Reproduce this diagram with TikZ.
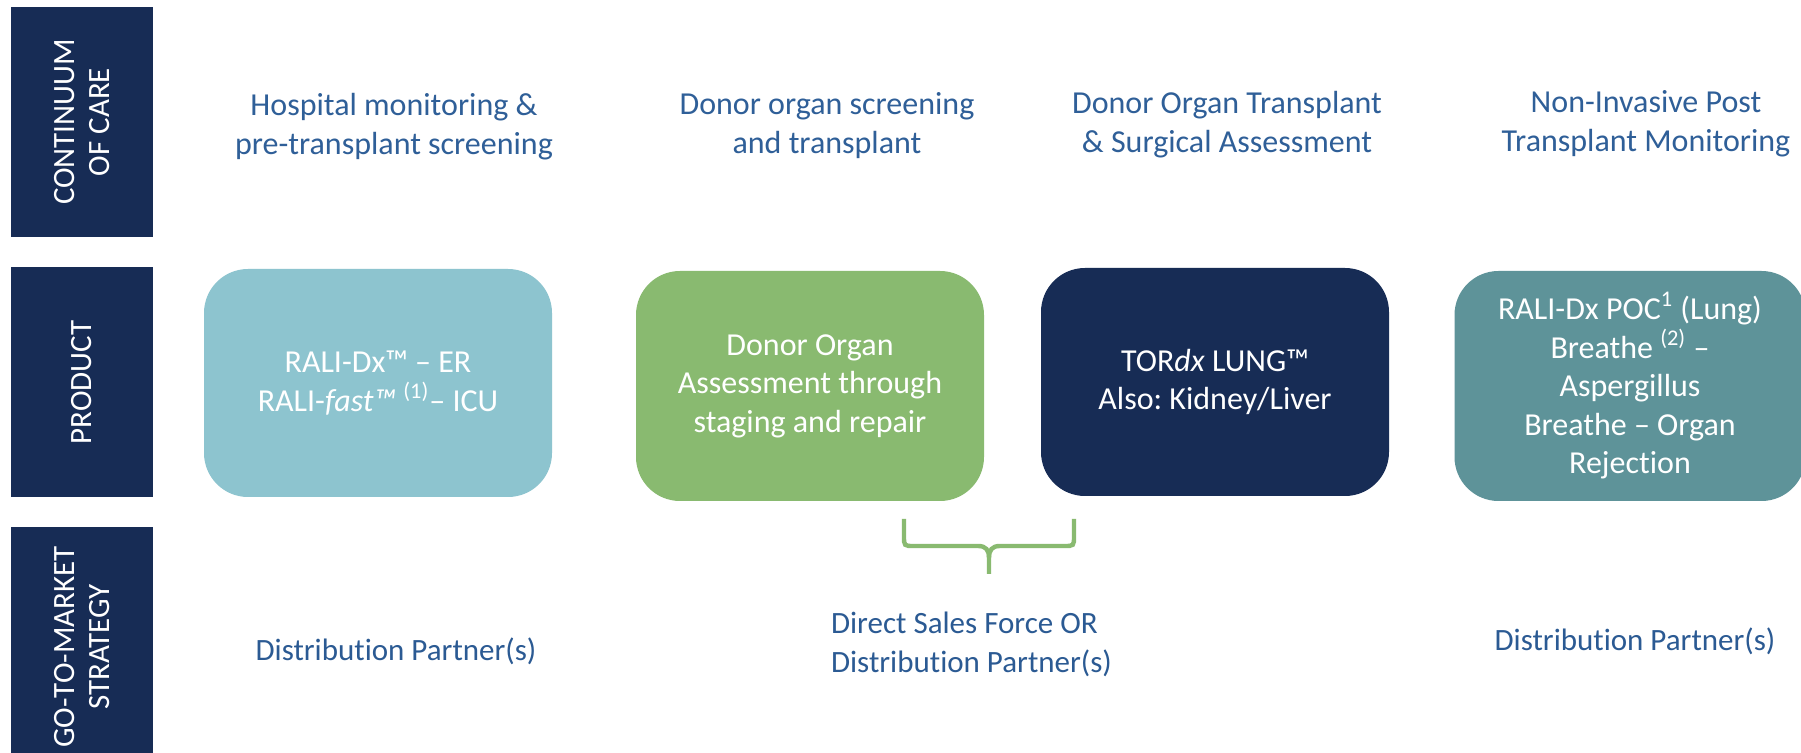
\documentclass[tikz,border=0pt]{standalone}
\usepackage{fontspec}
\setmainfont{Carlito}[Ligatures=NoCommon]
\frenchspacing
\definecolor{navy}{RGB}{23,44,85}
\definecolor{lblue}{RGB}{141,196,207}
\definecolor{lgreen}{RGB}{137,186,112}
\definecolor{teal2}{RGB}{94,147,153}
\definecolor{hblue}{RGB}{47,95,152}
\definecolor{dblue}{RGB}{43,90,147}
\tikzset{
  bar/.style={fill=navy, rotate=90, text=white, align=center, inner sep=0pt,
    minimum width=115pt, minimum height=71pt, font=\fontsize{15.5}{17.5}\selectfont},
  prod/.style={rounded corners=22pt, text=white, align=center, inner sep=0pt,
    minimum width=174pt, minimum height=114pt, font=\fontsize{16}{19.3}\selectfont},
  head/.style={text=hblue, align=center, font=\fontsize{16}{19.5}\selectfont},
  gtm/.style={text=dblue, font=\fontsize{15.5}{19.5}\selectfont},
  brace/.style={draw=lgreen, line width=2.2pt, line cap=butt}
}
\begin{document}
\begin{tikzpicture}[x=0.5pt,y=-0.5pt]
\useasboundingbox (0,0) rectangle (1801,753);
\fill[white] (0,0) rectangle (1801,753);
% left bars
\node[bar] (bcare) at (82,122) {CONTINUUM\\OF CARE};
\node[bar] (bprod) at (82,382.5) {PRODUCT};
\node[bar, minimum width=120pt] (bgtm) at (82,647) {GO-TO-MARKET\\STRATEGY};
% headers
\node[head] (h1) at (394,126.5) {Hospital monitoring \&\\pre-transplant screening};
\node[head] (h2) at (827,126) {Donor organ screening\\and transplant};
\node[head] (h3) at (1227,125) {Donor Organ Transplant\\\& Surgical Assessment};
\node[head] (h4) at (1646,124) {Non-Invasive Post\\Transplant Monitoring};
% products
\node[prod, fill=lblue] (p1) at (378,383) {RALI-Dx™ – ER\\RALI-\textit{fast™} \textsuperscript{(1)}– ICU};
\node[prod, fill=lgreen, minimum height=115pt] (p2) at (810,386) {Donor Organ\\Assessment through\\staging and repair};
\node[prod, fill=navy] (p3) at (1215,382) {TOR\textit{dx} LUNG™\\Also: Kidney/Liver};
\node[prod, fill=teal2, minimum width=175.5pt, minimum height=115pt] (p4) at (1630,386) {RALI-Dx POC\textsuperscript{1} (Lung)\\Breathe \textsuperscript{(2)} –\\Aspergillus\\Breathe – Organ\\Rejection};
% go-to-market
\node[gtm] (g1) at (396,651) {Distribution Partner(s)};
\node[gtm, anchor=west, align=left] (g2) at (824,644) {Direct Sales Force OR\\Distribution Partner(s)};
\node[gtm] (g3) at (1635,641) {Distribution Partner(s)};
% brace
\coordinate (bl) at (904,519);
\coordinate (br) at (1074,519);
\coordinate (bt) at (989,574);
\draw[brace] (bl) -- (904,536) .. controls (904,546) .. (914,546) -- (978,546)
  .. controls (986,546) and (989,550) .. (989,558) -- (bt);
\draw[brace] (br) -- (1074,536) .. controls (1074,546) .. (1064,546) -- (1000,546)
  .. controls (992,546) and (989,550) .. (989,558);
\end{tikzpicture}
\end{document}
